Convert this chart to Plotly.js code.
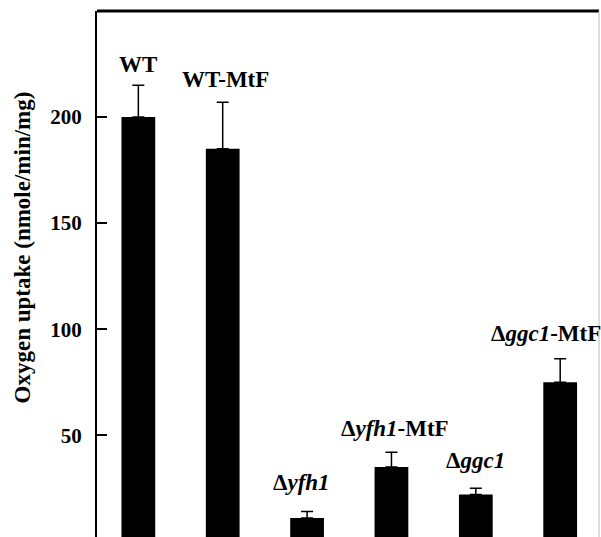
<!DOCTYPE html>
<html><head><meta charset="utf-8">
<script src="https://cdn.plot.ly/plotly-3.0.1.min.js"></script>
<style>html,body{margin:0;padding:0;background:#fff;}#chart{width:601px;height:537px;}</style>
</head><body><div id="chart"></div>
<script>
const categories = ["WT", "WT-MtF", "Δyfh1", "Δyfh1-MtF", "Δggc1", "Δggc1-MtF"];
const labels = ["WT", "WT-MtF", "Δ<i>yfh1</i>", "Δ<i>yfh1</i>-MtF", "Δ<i>ggc1</i>", "Δ<i>ggc1</i>-MtF"];
const values = [200, 185, 11, 35, 22, 75];
const errors = [15, 22, 3, 7, 3, 11];
const tickVals = [50, 100, 150, 200];

const fontFam = "Liberation Serif, Times New Roman, serif";
const idx = categories.map((c, i) => i);
const labelShift = [6, 8, 15, 9, 13, 11];
const labelXShift = [0, 3, -6, 4, 0, -14];

const trace = {
  type: 'bar', x: idx, y: values, width: 0.4,
  marker: {color: '#000', line: {width: 0}},
  error_y: {type: 'data', symmetric: false, array: errors, arrayminus: errors.map(() => 0),
            color: '#000', thickness: 1.5, width: 6},
  hoverinfo: 'none'
};

const annotations = idx.map(i => ({
  x: i, y: values[i] + errors[i], xref: 'x', yref: 'y',
  text: '<b>' + labels[i] + '</b>', showarrow: false,
  yanchor: 'bottom', yshift: labelShift[i], xshift: labelXShift[i],
  font: {family: fontFam, size: 23, color: '#000'}
}));
annotations.push({
  xref: 'paper', yref: 'paper', x: -0.148, y: 0.55, xanchor: 'center', yanchor: 'middle',
  textangle: -90, showarrow: false,
  text: '<b>Oxygen uptake (nmole/min/mg)</b>',
  font: {family: fontFam, size: 23, color: '#000'}
});

const layout = {
  width: 601, height: 537,
  margin: {l: 97, r: 2, t: 11, b: 0, pad: 0},
  paper_bgcolor: '#fff', plot_bgcolor: '#fff',
  showlegend: false,
  font: {family: fontFam, color: '#000'},
  xaxis: {range: [-0.49, 5.46], showticklabels: false, ticks: '', showgrid: false, zeroline: false, showline: false, fixedrange: true},
  yaxis: {range: [2, 250], tickvals: tickVals, ticktext: tickVals.map(v => '<b>' + v + '</b>'),
          ticks: 'inside', ticklen: 10, tickwidth: 2, tickcolor: '#000',
          showline: true, linecolor: '#000', linewidth: 2, showgrid: false, zeroline: false,
          tickfont: {family: fontFam, size: 21, color: '#000'}, ticklabelstandoff: 9},
  annotations: annotations,
  shapes: [
    {type: 'line', xref: 'paper', yref: 'paper', x0: 0, x1: 1, y0: 1, y1: 1, line: {color: '#000', width: 3}},
    {type: 'line', xref: 'paper', yref: 'paper', x0: 1, x1: 1, y0: 0, y1: 1, line: {color: '#bbb', width: 1}}
  ]
};
Plotly.newPlot('chart', [trace], layout, {displayModeBar: false, staticPlot: true});
</script></body></html>
